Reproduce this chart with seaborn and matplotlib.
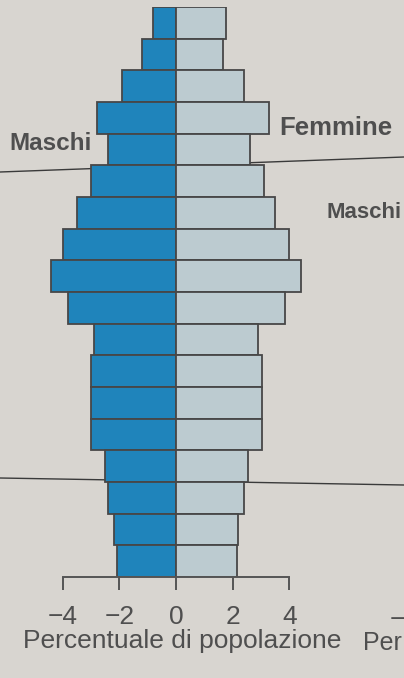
import seaborn as sns
import matplotlib.pyplot as plt
from matplotlib.lines import Line2D
import pandas as pd

# age groups, oldest at the top
eta = ['85+', '80-84', '75-79', '70-74', '65-69', '60-64', '55-59', '50-54', '45-49',
       '40-44', '35-39', '30-34', '25-29', '20-24', '15-19', '10-14', '5-9', '0-4']
maschi = [0.8, 1.2, 1.9, 2.8, 2.4, 3.0, 3.5, 4.0, 4.4, 3.8, 2.9, 3.0, 3.0, 3.0, 2.5, 2.4, 2.2, 2.1]
femmine = [1.75, 1.65, 2.4, 3.3, 2.6, 3.1, 3.5, 4.0, 4.4, 3.85, 2.9, 3.05, 3.05, 3.05, 2.55, 2.4, 2.2, 2.15]
xticks = [-4, -2, 0, 2, 4]

df = pd.DataFrame({
    'eta': eta * 2,
    'perc': [-v for v in maschi] + femmine,
    'sesso': ['Maschi'] * len(eta) + ['Femmine'] * len(eta),
})

sns.set_style('white')
plt.rcParams['font.family'] = ['Liberation Sans', 'DejaVu Sans']

bg = '#d8d5d0'
txt = '#4f4f4f'
fig = plt.figure(figsize=(4.04, 6.78), dpi=100, facecolor=bg)
ax = fig.add_axes([0, 101 / 678, 1, 570 / 678])
ax.set_facecolor('none')

sns.barplot(data=df, x='perc', y='eta', hue='sesso', order=eta, orient='h',
            dodge=False, width=1.0, saturation=1,
            palette={'Maschi': '#1f84bb', 'Femmine': '#bccbd0'},
            edgecolor='#474747', linewidth=1.3, legend=False, ax=ax)

px = 28.3  # pixels per unit
ax.set_xlim(-176 / px, (404 - 176) / px)
ax.set_ylim(len(eta) - 0.5, -0.5)
for s in ['top', 'right', 'left']:
    ax.spines[s].set_visible(False)
ax.spines['bottom'].set_bounds(-4, 4)
ax.spines['bottom'].set_color('#555555')
ax.spines['bottom'].set_linewidth(1.4)
ax.set_xticks(xticks)
ax.set_xticklabels([f'\u2212{abs(t)}' if t < 0 else str(t) for t in xticks])
ax.tick_params(axis='x', bottom=True, direction='out', length=9, width=1.4, color='#555555',
               pad=11, labelsize=19, labelcolor=txt)
ax.set_yticks([])
ax.set_xlabel('')
ax.set_ylabel('')

# page lines behind the chart
fig.add_artist(Line2D([0, 1], [1 - 172 / 678, 1 - 157 / 678], transform=fig.transFigure,
                      color='#3a3a3a', lw=1.0, zorder=-1))
fig.add_artist(Line2D([0, 1], [1 - 478 / 678, 1 - 485 / 678], transform=fig.transFigure,
                      color='#3a3a3a', lw=1.0, zorder=-1))

fig.text(9 / 404, 1 - 143 / 678, 'Maschi', fontsize=17.5, fontweight='bold', color=txt,
         ha='left', va='center')
fig.text(279 / 404, 1 - 128 / 678, 'Femmine', fontsize=18.5, fontweight='bold', color=txt,
         ha='left', va='center')
fig.text(326 / 404, 1 - 212 / 678, 'Maschi', fontsize=16, fontweight='bold', color=txt,
         ha='left', va='center')
fig.text(182 / 404, 1 - 641 / 678, 'Percentuale di popolazione', fontsize=19, color=txt,
         ha='center', va='center')
fig.text(363 / 404, 1 - 643 / 678, 'Per', fontsize=18, color=txt,
         ha='left', va='center')
fig.text(390 / 404, 1 - 620 / 678, '\u2212', fontsize=19, color=txt,
         ha='left', va='center')

fig.savefig('out.png', dpi=100, facecolor=bg)
